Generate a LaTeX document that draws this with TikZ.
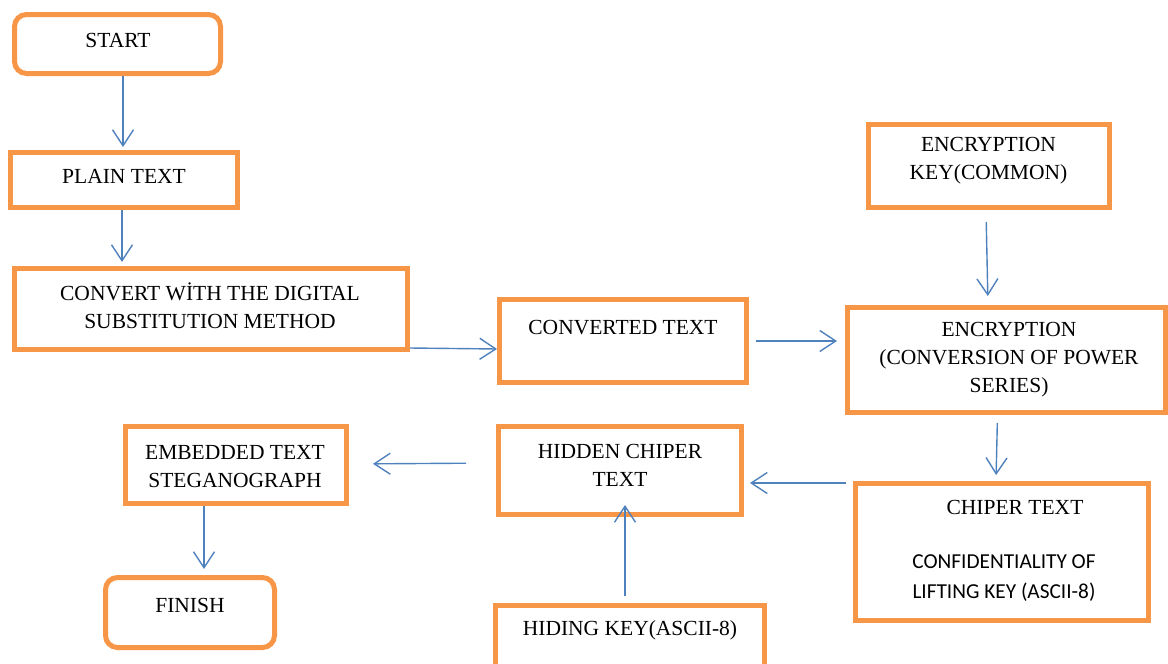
\documentclass[tikz,border=0pt]{standalone}
\usepackage{fontspec}
\setmainfont{Liberation Serif}
\newfontfamily\calibrisub{Carlito}
\usetikzlibrary{arrows.meta}
\definecolor{boxorange}{HTML}{F79646}
\definecolor{arrowblue}{HTML}{4F81BD}
\begin{document}
\begin{tikzpicture}[x=1pt,y=-1pt,
  box/.style={draw=boxorange,line width=5pt,minimum width=#1,inner sep=0pt,fill=white},
  rbox/.style={box=#1,rounded corners=12pt},
  txt/.style={font=\fontsize{21.5}{28}\selectfont,align=center,inner sep=0pt},
  stxt/.style={font=\calibrisub\fontsize{21.3}{30}\selectfont,align=center,inner sep=0pt},
  arr/.style={draw=arrowblue,line width=1.4pt,-{Straight Barb[length=16pt,width=21pt,line width=1.4pt]}}
]
\useasboundingbox (0,0) rectangle (1168,664);
\begin{scope}
\clip (0,0) rectangle (1168,664);
% boxes
\node[rbox=206pt,minimum height=59pt] (start) at (117.5,44) {};
\node[box=227pt,minimum height=55pt] (plain) at (124,180) {};
\node[box=393pt,minimum height=81pt] (convert) at (211,309) {};
\node[box=247pt,minimum height=83pt] (converted) at (623,341) {};
\node[box=241pt,minimum height=83pt] (key) at (989,166) {};
\node[box=318pt,minimum height=105pt] (encrypt) at (1006.5,360) {};
\node[box=293pt,minimum height=137pt] (chiper) at (1002,552) {};
\node[box=243pt,minimum height=88pt] (hidden) at (620,470.5) {};
\node[box=269pt,minimum height=76pt] (hiding) at (630,643.5) {};
\node[box=221pt,minimum height=77pt] (embedded) at (236,465) {};
\node[rbox=169pt,minimum height=70pt] (finish) at (190,612.5) {};
\end{scope}
% texts
\node[txt] (tstart) at (118,40) {START};
\node[txt] (tplain) at (124,176) {PLAIN TEXT};
\node[txt] (tconv) at (210,306) {CONVERT WİTH THE DIGITAL\\SUBSTITUTION METHOD};
\node[txt] (tconverted) at (623,328) {CONVERTED TEXT};
\node[txt] (tkey) at (988.5,161) {ENCRYPTION\\KEY(COMMON)};
\node[txt] (tenc) at (1009,360) {ENCRYPTION\\(CONVERSION OF POWER\\SERIES)};
\node[txt] (tchiper) at (1015,507) {CHIPER TEXT};
\node[stxt] (tconf) at (1004,578) {CONFIDENTIALITY OF\\LIFTING KEY (ASCII-8)};
\node[txt] (thidden) at (620,465) {HIDDEN CHIPER\\TEXT};
\node[txt] (thiding) at (630,630) {HIDING KEY(ASCII-8)};
\node[txt] (temb) at (235,466.5) {EMBEDDED TEXT\\STEGANOGRAPH};
\node[txt] (tfinish) at (190,605) {FINISH};
% arrows
\draw[arr,shorten >=3pt] ([xshift=5.5pt]start.south) -- ([xshift=-1pt]plain.north);
\draw[arr,shorten >=4pt] ([xshift=-2pt]plain.south) -- ([xshift=-89pt]convert.north);
\draw[arr] ([yshift=-39pt]convert.east) -- ([yshift=-8pt]converted.west);
\draw[arr,shorten <=7pt,shorten >=8pt] (converted.east) -- (encrypt.west |- converted.east);
\draw[arr,shorten <=12pt,shorten >=9pt] ([xshift=-3pt]key.south) -- ([xshift=-18.5pt]encrypt.north);
\draw[arr,shorten <=8pt,shorten >=6pt] ([xshift=-9pt]encrypt.south) -- ([xshift=-6pt]chiper.north);
\draw[arr,shorten <=7pt,shorten >=6pt] ([yshift=69pt]chiper.west) -- ([yshift=-12.5pt]hidden.east);
\draw[arr,shorten <=30pt,shorten >=24pt] ([yshift=7.5pt]hidden.west) -- ([yshift=1pt]embedded.east);
\draw[arr,shorten >=6pt] ([xshift=-32pt]embedded.south) -- ([xshift=14pt]finish.north);
\draw[arr,shorten <=7pt,shorten >=-12pt] ([xshift=-5pt]hiding.north) -- ([xshift=5pt]hidden.south);
\end{tikzpicture}
\end{document}
